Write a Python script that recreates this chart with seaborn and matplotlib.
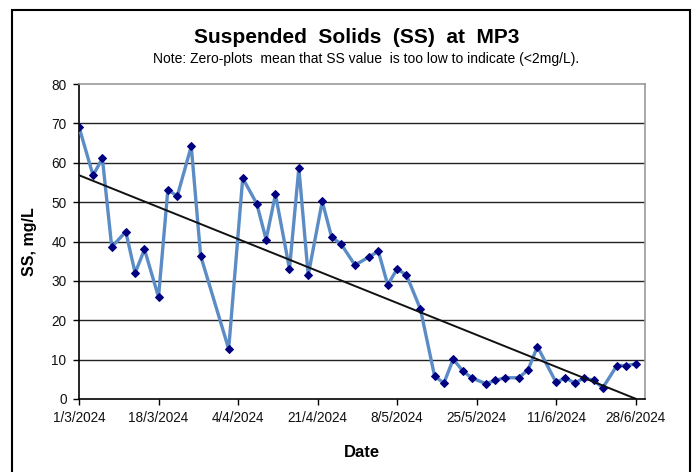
import numpy as np
import pandas as pd
import matplotlib
matplotlib.use('Agg')
import matplotlib.pyplot as plt
import matplotlib.dates as mdates
from matplotlib.patches import Rectangle
import seaborn as sns

# data (SS, mg/L)
dates = ['2024-03-01', '2024-03-04', '2024-03-06', '2024-03-08', '2024-03-11',
         '2024-03-13', '2024-03-15', '2024-03-18', '2024-03-20', '2024-03-22',
         '2024-03-25', '2024-03-27', '2024-04-02', '2024-04-05', '2024-04-08',
         '2024-04-10', '2024-04-12', '2024-04-15', '2024-04-17', '2024-04-19',
         '2024-04-22', '2024-04-24', '2024-04-26', '2024-04-29', '2024-05-02',
         '2024-05-04', '2024-05-06', '2024-05-08', '2024-05-10', '2024-05-13',
         '2024-05-16', '2024-05-18', '2024-05-20', '2024-05-22', '2024-05-24',
         '2024-05-27', '2024-05-29', '2024-05-31', '2024-06-03', '2024-06-05',
         '2024-06-07', '2024-06-11', '2024-06-13', '2024-06-15', '2024-06-17',
         '2024-06-19', '2024-06-21', '2024-06-24', '2024-06-26', '2024-06-28']
ss_values = [69.1, 56.8, 61.1, 38.6, 42.5, 32.0, 38.0, 25.9, 53.2, 51.5,
             64.2, 36.4, 12.7, 56.1, 49.6, 40.5, 52.0, 33.0, 58.7, 31.4,
             50.2, 41.1, 39.4, 34.0, 36.1, 37.5, 29.0, 33.0, 31.5, 22.8,
             5.9, 4.0, 10.1, 7.2, 5.3, 3.9, 4.7, 5.4, 5.4, 7.4,
             13.3, 4.2, 5.4, 4.0, 5.4, 4.7, 2.9, 8.5, 8.5, 8.9]
tick_dates = ['2024-03-01', '2024-03-18', '2024-04-04', '2024-04-21',
              '2024-05-08', '2024-05-25', '2024-06-11', '2024-06-28']
y_ticks = [0, 10, 20, 30, 40, 50, 60, 70, 80]

df = pd.DataFrame({'date': pd.to_datetime(dates), 'ss': ss_values})

# linear trend (like the Excel trendline)
x_num = mdates.date2num(df['date'])
coef = np.polyfit(x_num, df['ss'], 1)
trend = pd.DataFrame({'date': df['date'], 'trend': np.polyval(coef, x_num)})

plt.rcParams['font.family'] = ['Liberation Sans', 'DejaVu Sans']

fig = plt.figure(figsize=(6.94, 4.72), dpi=100)
ax = fig.add_axes([79 / 694, 73 / 472, 566 / 694, 315 / 472])

# horizontal gridlines
for v in y_ticks[1:-1]:
    ax.axhline(v, color='#222222', linewidth=1.0, zorder=1)

sns.lineplot(data=df, x='date', y='ss', ax=ax, color='#5B8CC6', linewidth=2.4,
             marker='D', markersize=4.5, markerfacecolor='#000080',
             markeredgecolor='#000080', zorder=3)
sns.lineplot(data=trend, x='date', y='trend', ax=ax, color='#111111',
             linewidth=1.4, zorder=4)

ax.set_ylim(0, 80)
ax.set_xlim(pd.Timestamp('2024-03-01'), pd.Timestamp('2024-06-30'))
ax.set_yticks(y_ticks)
ax.set_xticks(pd.to_datetime(tick_dates))
ax.set_xticklabels([f'{d.day}/{d.month}/{d.year}' for d in pd.to_datetime(tick_dates)])
ax.tick_params(axis='both', labelsize=9.8, length=4, width=1, color='black',
               labelcolor='#111111')
ax.tick_params(axis='x', pad=5)
ax.tick_params(axis='y', pad=5)

for side in ['left', 'bottom']:
    ax.spines[side].set_color('black')
    ax.spines[side].set_linewidth(1.2)
for side in ['top', 'right']:
    ax.spines[side].set_color('#999999')
    ax.spines[side].set_linewidth(1.2)
ax.spines['bottom'].set_zorder(5)

ax.set_xlabel('Date', fontsize=12, fontweight='bold', labelpad=14)
ax.set_ylabel('SS, mg/L', fontsize=11.5, fontweight='bold', labelpad=10)

fig.text(0.514, 0.920, 'Suspended  Solids  (SS)  at  MP3', ha='center', va='center',
         fontsize=15, fontweight='bold')
fig.text(0.527, 0.876, 'Note: Zero-plots  mean that SS value  is too low to indicate (<2mg/L).',
         ha='center', va='center', fontsize=10)

# outer chart border
fig.patches.append(Rectangle((12 / 694, -0.02), 678 / 694, 1 - 9.5 / 472 + 0.02,
                             transform=fig.transFigure, fill=False,
                             edgecolor='black', linewidth=1.5))

fig.savefig('out.png', dpi=100)
